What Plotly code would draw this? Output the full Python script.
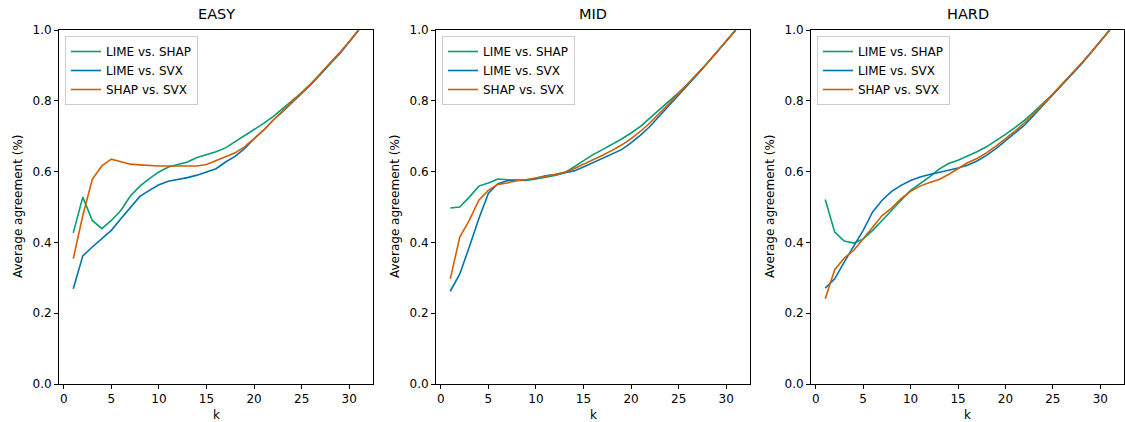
import plotly.graph_objects as go

k = list(range(1, 32))
panels = ["EASY", "MID", "HARD"]
series_names = ["LIME vs. SHAP", "LIME vs. SVX", "SHAP vs. SVX"]
colors = ["#009E73", "#0072B2", "#D55E00"]

easy_lime_shap = [0.427, 0.528, 0.462, 0.439, 0.462, 0.490, 0.531, 0.559, 0.580, 0.599, 0.613, 0.621, 0.627, 0.640, 0.648, 0.656, 0.667, 0.684, 0.700, 0.717, 0.736, 0.755, 0.777, 0.799, 0.823, 0.849, 0.875, 0.906, 0.934, 0.967, 1.0]
easy_lime_svx = [0.269, 0.362, 0.387, 0.410, 0.434, 0.467, 0.500, 0.530, 0.547, 0.563, 0.573, 0.577, 0.583, 0.590, 0.599, 0.608, 0.627, 0.643, 0.665, 0.693, 0.717, 0.745, 0.769, 0.794, 0.821, 0.847, 0.875, 0.904, 0.934, 0.967, 1.0]
easy_shap_svx = [0.354, 0.476, 0.578, 0.616, 0.635, 0.627, 0.621, 0.619, 0.617, 0.616, 0.616, 0.616, 0.616, 0.616, 0.620, 0.632, 0.642, 0.653, 0.670, 0.693, 0.717, 0.745, 0.772, 0.797, 0.823, 0.849, 0.877, 0.906, 0.936, 0.967, 1.0]

mid_lime_shap = [0.497, 0.500, 0.528, 0.559, 0.568, 0.579, 0.577, 0.576, 0.575, 0.579, 0.583, 0.589, 0.596, 0.613, 0.632, 0.648, 0.662, 0.676, 0.692, 0.709, 0.728, 0.752, 0.775, 0.799, 0.823, 0.849, 0.877, 0.906, 0.937, 0.969, 1.0]
mid_lime_svx = [0.262, 0.311, 0.387, 0.467, 0.538, 0.566, 0.574, 0.575, 0.577, 0.581, 0.588, 0.592, 0.597, 0.602, 0.613, 0.625, 0.637, 0.649, 0.662, 0.681, 0.703, 0.728, 0.757, 0.786, 0.816, 0.844, 0.875, 0.906, 0.937, 0.969, 1.0]
mid_shap_svx = [0.297, 0.415, 0.462, 0.519, 0.547, 0.564, 0.568, 0.574, 0.577, 0.581, 0.587, 0.592, 0.598, 0.608, 0.620, 0.632, 0.646, 0.660, 0.675, 0.693, 0.714, 0.738, 0.764, 0.792, 0.821, 0.849, 0.877, 0.906, 0.937, 0.969, 1.0]

hard_lime_shap = [0.521, 0.429, 0.404, 0.398, 0.410, 0.434, 0.462, 0.492, 0.519, 0.547, 0.566, 0.585, 0.607, 0.623, 0.632, 0.643, 0.656, 0.670, 0.687, 0.705, 0.724, 0.745, 0.769, 0.794, 0.819, 0.847, 0.875, 0.904, 0.936, 0.967, 1.0]
hard_lime_svx = [0.271, 0.297, 0.344, 0.387, 0.434, 0.486, 0.519, 0.544, 0.561, 0.575, 0.585, 0.592, 0.599, 0.604, 0.610, 0.618, 0.630, 0.646, 0.665, 0.687, 0.708, 0.731, 0.759, 0.788, 0.816, 0.844, 0.874, 0.904, 0.936, 0.967, 1.0]
hard_shap_svx = [0.241, 0.323, 0.356, 0.377, 0.410, 0.443, 0.476, 0.497, 0.524, 0.544, 0.559, 0.569, 0.578, 0.592, 0.608, 0.625, 0.637, 0.653, 0.672, 0.693, 0.714, 0.738, 0.764, 0.790, 0.819, 0.847, 0.875, 0.906, 0.936, 0.967, 1.0]

data = [
    [easy_lime_shap, easy_lime_svx, easy_shap_svx],
    [mid_lime_shap, mid_lime_svx, mid_shap_svx],
    [hard_lime_shap, hard_lime_svx, hard_shap_svx],
]

x_ticks = [0, 5, 10, 15, 20, 25, 30]
y_ticks = [0.0, 0.2, 0.4, 0.6, 0.8, 1.0]

W, H = 1125, 422
x_px = [(59, 373), (436, 750), (811, 1124)]
y_dom = [(H - 384) / H, (H - 30) / H]

FONT = "DejaVu Sans"
fig = go.Figure()
layout = dict(
    width=W, height=H,
    margin=dict(l=0, r=0, t=0, b=0, autoexpand=False),
    paper_bgcolor="white", plot_bgcolor="white",
    font=dict(family=FONT, size=12, color="black"),
    showlegend=True,
)
annotations = []
for i, name in enumerate(panels):
    sfx = "" if i == 0 else str(i + 1)
    leg = "legend" if i == 0 else f"legend{i + 1}"
    for j, s in enumerate(series_names):
        fig.add_trace(go.Scatter(
            x=k, y=data[i][j], mode="lines", name=s,
            line=dict(color=colors[j], width=1.6),
            xaxis="x" + sfx, yaxis="y" + sfx, legend=leg,
        ))
    dom = [x_px[i][0] / W, x_px[i][1] / W]
    layout["xaxis" + sfx] = dict(
        domain=dom, anchor="y" + sfx, range=[-0.5, 32.5],
        tickvals=x_ticks, ticks="outside", ticklen=4, tickcolor="black",
        showline=True, linecolor="black", linewidth=1, mirror=True,
        showgrid=False, zeroline=False, automargin=False,
        tickfont=dict(size=12),
    )
    layout["yaxis" + sfx] = dict(
        domain=list(y_dom), anchor="x" + sfx, range=[0, 1.0],
        tickvals=y_ticks, tickformat=".1f", ticks="outside", ticklen=4, tickcolor="black",
        showline=True, linecolor="black", linewidth=1, mirror=True,
        showgrid=False, zeroline=False, automargin=False,
        tickfont=dict(size=12),
    )
    layout[leg] = dict(
        x=(x_px[i][0] + 6) / W, y=(H - 36) / H, xanchor="left", yanchor="top",
        bgcolor="rgba(255,255,255,0.8)", bordercolor="#cccccc", borderwidth=1,
        font=dict(size=12), tracegroupgap=0, itemwidth=30,
    )
    annotations.append(dict(
        text=name, x=(dom[0] + dom[1]) / 2, y=(H - 14) / H, xref="paper", yref="paper",
        xanchor="center", yanchor="middle", showarrow=False, font=dict(size=14.5),
    ))
    annotations.append(dict(
        text="k", x=(dom[0] + dom[1]) / 2, y=(H - 415) / H, xref="paper", yref="paper",
        xanchor="center", yanchor="middle", showarrow=False, font=dict(size=12),
    ))
    annotations.append(dict(
        text="Average agreement (%)", x=(x_px[i][0] - 41) / W, y=(H - 207) / H,
        xref="paper", yref="paper", xanchor="center", yanchor="middle",
        showarrow=False, textangle=-90, font=dict(size=12),
    ))
layout["annotations"] = annotations
fig.update_layout(**layout)
fig.write_html("out.html")
